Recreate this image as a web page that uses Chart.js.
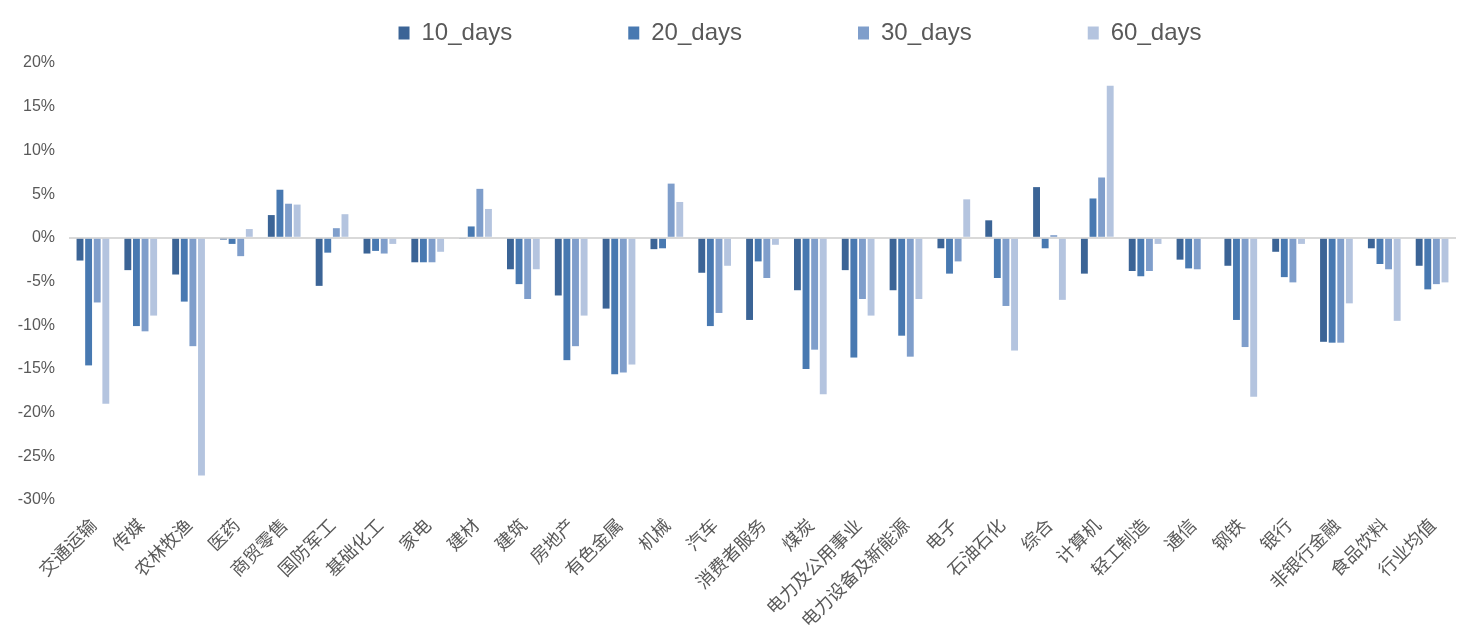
<!DOCTYPE html>
<html>
<head>
<meta charset="utf-8">
<script src="https://cdn.jsdelivr.net/npm/chart.js@4"></script>
<style>
  html, body { margin: 0; padding: 0; background: #fff; }
  #wrap { width: 1464px; height: 636px; }
</style>
</head>
<body>
<div id="wrap"><canvas id="myChart"></canvas></div>
<script>
const labels = ['交通运输', '传媒', '农林牧渔', '医药', '商贸零售', '国防军工', '基础化工', '家电', '建材', '建筑',
  '房地产', '有色金属', '机械', '汽车', '消费者服务', '煤炭', '电力及公用事业', '电力设备及新能源', '电子', '石油石化',
  '综合', '计算机', '轻工制造', '通信', '钢铁', '银行', '非银行金融', '食品饮料', '行业均值'];

const days10 = [-2.6, -3.7, -4.2, -0.2, 2.6, -5.5, -1.8, -2.8, -0.1, -3.6,
  -6.6, -8.1, -1.3, -4.0, -9.4, -6.0, -3.7, -6.0, -1.2, 2.0,
  5.8, -4.1, -3.8, -2.5, -3.2, -1.6, -11.9, -1.2, -3.2];
const days20 = [-14.6, -10.1, -7.3, -0.7, 5.5, -1.7, -1.5, -2.8, 1.3, -5.3,
  -14.0, -15.6, -1.2, -10.1, -2.7, -15.0, -13.7, -11.2, -4.1, -4.6,
  -1.2, 4.5, -4.4, -3.5, -9.4, -4.5, -12.0, -3.0, -5.9];
const days30 = [-7.4, -10.7, -12.4, -2.1, 3.9, 1.1, -1.8, -2.8, 5.6, -7.0,
  -12.4, -15.4, 6.2, -8.6, -4.6, -12.8, -7.0, -13.6, -2.7, -7.8,
  0.3, 6.9, -3.8, -3.6, -12.5, -5.1, -12.0, -3.6, -5.3];
const days60 = [-19.0, -8.9, -27.2, 1.0, 3.8, 2.7, -0.7, -1.6, 3.3, -3.6,
  -8.9, -14.5, 4.1, -3.2, -0.8, -17.9, -8.9, -7.0, 4.4, -12.9,
  -7.1, 17.4, -0.7, 0, -18.2, -0.7, -7.5, -9.5, -5.1];

const seriesNames = ['10_days', '20_days', '30_days', '60_days'];
const seriesColors = ['#3b6496', '#4879b1', '#7f9ecb', '#b4c4df'];
const yTicks = [20, 15, 10, 5, 0, -5, -10, -15, -20, -25, -30];

const legendPad = 116;

// move the wide-spaced legend back up and to the right
const legendPlace = {
  id: 'legendPlace',
  afterLayout(chart) {
    const lg = chart.legend;
    lg.top = 21 - legendPad;
    lg.bottom = 63;
    lg.left += 72;
    lg.right += 72;
  }
};

const data = {
  labels: labels,
  datasets: [days10, days20, days30, days60].map((vals, i) => ({
    label: seriesNames[i],
    data: vals,
    backgroundColor: seriesColors[i],
    borderWidth: 0,
    categoryPercentage: 0.72,
    barPercentage: 0.8
  }))
};

const config = {
  type: 'bar',
  data: data,
  plugins: [legendPlace],
  options: {
    responsive: true,
    maintainAspectRatio: false,
    animation: false,
    layout: { padding: { top: 0, right: 8, left: 0, bottom: 0 } },
    plugins: {
      tooltip: { enabled: false },
      legend: {
        position: 'top',
        maxHeight: 63,
        labels: {
          boxWidth: 11,
          boxHeight: 13,
          padding: legendPad,
          color: '#595959',
          font: { family: 'Liberation Sans', size: 24 }
        }
      }
    },
    scales: {
      x: {
        grid: { display: false, drawTicks: false },
        border: { display: false },
        ticks: {
          autoSkip: false,
          maxRotation: 45,
          minRotation: 45,
          padding: 14,
          color: '#595959',
          font: { family: 'Noto Sans CJK SC', size: 18 }
        },
        afterFit: (scale) => { scale.height = 136; }
      },
      y: {
        min: -30,
        max: 20,
        afterBuildTicks: (scale) => { scale.ticks = yTicks.map(v => ({ value: v })); },
        grid: {
          drawTicks: false,
          lineWidth: 2,
          color: (ctx) => ctx.tick && ctx.tick.value === 0 ? '#d9d9d9' : 'rgba(0,0,0,0)'
        },
        border: { display: false },
        ticks: {
          padding: 14,
          color: '#595959',
          font: { family: 'Liberation Sans', size: 16 },
          callback: (v) => v + '%'
        },
        afterFit: (scale) => { scale.width = 69; }
      }
    }
  }
};

const myChart = new Chart(document.getElementById('myChart'), config);
</script>
</body>
</html>
